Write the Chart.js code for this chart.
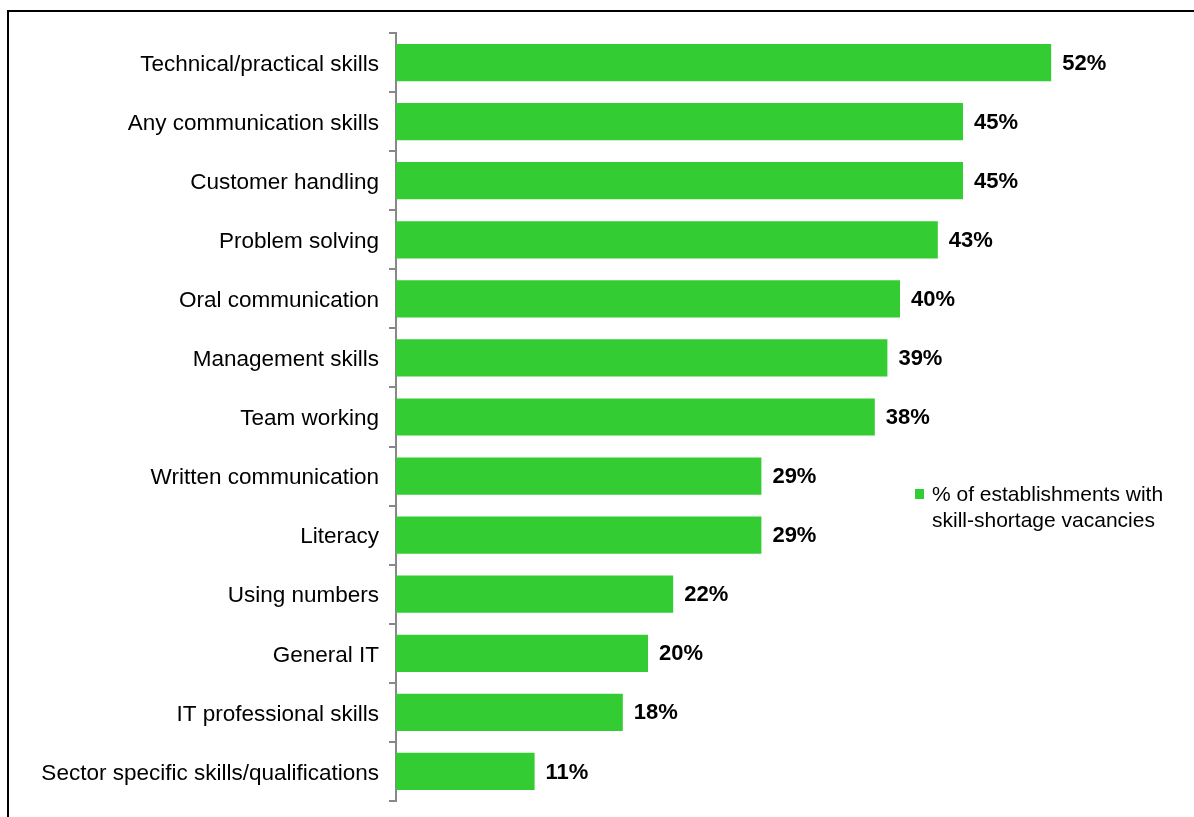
<!DOCTYPE html>
<html>
<head>
<meta charset="utf-8">
<style>
  html, body { margin: 0; padding: 0; background: #fff; }
  #wrap { position: relative; width: 1194px; height: 817px; }
</style>
<script src="https://cdn.jsdelivr.net/npm/chart.js@4/dist/chart.umd.min.js"></script>
</head>
<body>
<div id="wrap"><canvas id="c" width="1194" height="817"></canvas></div>
<script>
const categories = [
  'Technical/practical skills',
  'Any communication skills',
  'Customer handling',
  'Problem solving',
  'Oral communication',
  'Management skills',
  'Team working',
  'Written communication',
  'Literacy',
  'Using numbers',
  'General IT',
  'IT professional skills',
  'Sector specific skills/qualifications'
];
const shortageShare = [52, 45, 45, 43, 40, 39, 38, 29, 29, 22, 20, 18, 11];
const seriesName = ['% of establishments with', 'skill-shortage vacancies'];

const FONT = '"Liberation Sans", Arial, sans-serif';
const GREEN = '#33CC33';

// Frame around the chart
const framePlugin = {
  id: 'frame',
  beforeDraw(chart) {
    const ctx = chart.ctx;
    ctx.save();
    ctx.fillStyle = '#fff';
    ctx.fillRect(0, 0, chart.width, chart.height);
    ctx.strokeStyle = '#000';
    ctx.lineWidth = 2;
    ctx.beginPath();
    ctx.moveTo(8, chart.height + 5);
    ctx.lineTo(8, 11);
    ctx.lineTo(chart.width + 5, 11);
    ctx.stroke();
    ctx.restore();
  }
};

// Value labels at the end of each bar
const valueLabels = {
  id: 'valueLabels',
  afterDatasetsDraw(chart) {
    const ctx = chart.ctx;
    const meta = chart.getDatasetMeta(0);
    ctx.save();
    ctx.font = 'bold 22px ' + FONT;
    ctx.fillStyle = '#000';
    ctx.textAlign = 'left';
    ctx.textBaseline = 'middle';
    meta.data.forEach((bar, i) => {
      ctx.fillText(shortageShare[i] + '%', bar.x + 11, bar.y + 1);
    });
    ctx.restore();
  }
};

// Legend: square marker with two-line text
const sideLegend = {
  id: 'sideLegend',
  afterDraw(chart) {
    const ctx = chart.ctx;
    ctx.save();
    ctx.fillStyle = GREEN;
    ctx.fillRect(915, 489, 9, 10);
    ctx.font = '21px ' + FONT;
    ctx.fillStyle = '#000';
    ctx.textAlign = 'left';
    ctx.textBaseline = 'middle';
    ctx.fillText(seriesName[0], 932, 495);
    ctx.fillText(seriesName[1], 932, 521);
    ctx.restore();
  }
};

new Chart(document.getElementById('c'), {
  type: 'bar',
  data: {
    labels: categories,
    datasets: [{
      data: shortageShare,
      backgroundColor: GREEN,
      borderWidth: 0,
      barPercentage: 0.63,
      categoryPercentage: 1
    }]
  },
  options: {
    indexAxis: 'y',
    responsive: false,
    animation: false,
    layout: { padding: { top: 33, bottom: 16, right: 42, left: 0 } },
    plugins: {
      legend: { display: false },
      tooltip: { enabled: false }
    },
    scales: {
      x: {
        display: false,
        min: 0,
        max: 60
      },
      y: {
        afterFit(scale) {
          scale.width = 396;
          scale.paddingTop = 0;
          scale.paddingBottom = 0;
        },
        grid: {
          offset: true,
          drawOnChartArea: false,
          drawTicks: true,
          tickLength: 7,
          color: '#888',
          lineWidth: 2
        },
        border: { display: true, color: '#888', width: 2 },
        ticks: {
          color: '#000',
          padding: 10,
          labelOffset: 2,
          font: { family: FONT, size: 22.5 }
        }
      }
    }
  },
  plugins: [framePlugin, valueLabels, sideLegend]
});
</script>
</body>
</html>
